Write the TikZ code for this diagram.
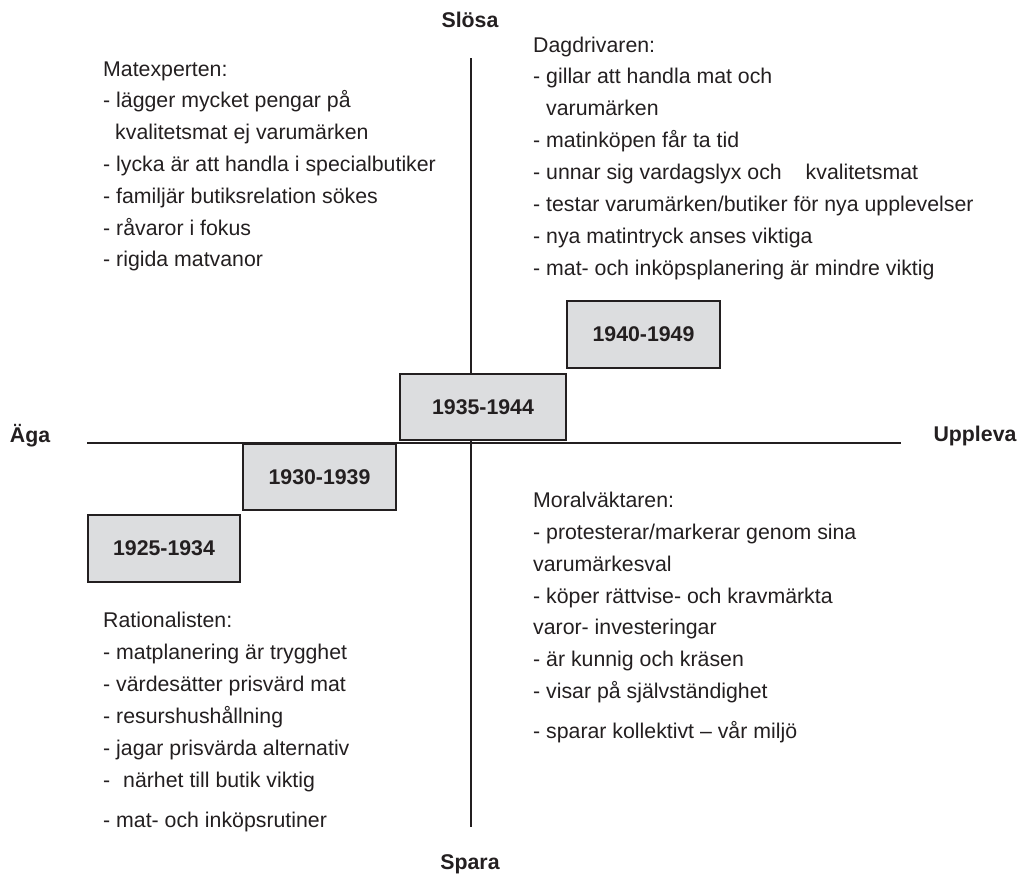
\documentclass[tikz,border=0pt]{standalone}
\usepackage{fontspec}
\setmainfont{Liberation Sans}
\definecolor{ink}{HTML}{231F20}
\definecolor{boxfill}{HTML}{DCDDDF}
\begin{document}
\begin{tikzpicture}[x=1pt,y=-1pt,
  txt/.style={anchor=base west, inner sep=0pt, text=ink, font=\fontsize{21.3}{25}\selectfont},
  axlbl/.style={anchor=base, inner sep=0pt, text=ink, font=\fontsize{21.3}{25}\selectfont\bfseries},
  era/.style={draw=ink, line width=2pt, fill=boxfill, text=ink, inner sep=0pt, font=\fontsize{21.3}{25}\selectfont\bfseries},
  axisline/.style={draw=ink, line width=2.5pt}]
\useasboundingbox (0,0) rectangle (1019,873);
% axes
\coordinate (L) at (87,443);
\coordinate (R) at (901,443);
\coordinate (T) at (471,58);
\coordinate (B) at (471,827);
\draw[axisline] (L) -- (R);
\draw[axisline] (T) -- (B);
% axis labels
\node[axlbl] (slosa) at (470,27) {Slösa};
\node[axlbl] (spara) at (470,869) {Spara};
\node[axlbl] (aga) at (30,442) {Äga};
\node[axlbl] (uppleva) at (975,441) {Uppleva};
% era boxes
\node[era, minimum width=152pt, minimum height=67pt] (e1) at (164,548.5) {1925-1934};
\node[era, minimum width=153pt, minimum height=66pt] (e2) at (319.5,477) {1930-1939};
\node[era, minimum width=166pt, minimum height=66pt] (e3) at (483,407) {1935-1944};
\node[era, minimum width=153pt, minimum height=67pt] (e4) at (643.5,334.5) {1940-1949};
% Matexperten
\foreach \t/\xx/\yy [count=\i] in {
  {Matexperten:}/103/76,
  {- lägger mycket pengar på}/103/107.8,
  {kvalitetsmat ej varumärken}/115/139.6,
  {- lycka är att handla i specialbutiker}/103/171.4,
  {- familjär butiksrelation sökes}/103/203.2,
  {- råvaror i fokus}/103/235,
  {- rigida matvanor}/103/266.8}
  \node[txt] (mx\i) at (\xx,\yy) {\t};
% Dagdrivaren
\foreach \t/\xx/\yy [count=\i] in {
  {Dagdrivaren:}/533/52,
  {- gillar att handla mat och}/533/83.9,
  {varumärken}/546/115.8,
  {- matinköpen får ta tid}/533/147.7,
  {- unnar sig vardagslyx och\hspace{18pt} kvalitetsmat}/533/179.6,
  {- testar varumärken/butiker för nya upplevelser}/533/211.5,
  {- nya matintryck anses viktiga}/533/243.4,
  {- mat- och inköpsplanering är mindre viktig}/533/275.3}
  \node[txt] (dd\i) at (\xx,\yy) {\t};
% Rationalisten
\foreach \t/\xx/\yy [count=\i] in {
  {Rationalisten:}/103/627,
  {- matplanering är trygghet}/103/659,
  {- värdesätter prisvärd mat}/103/691,
  {- resurshushållning}/103/723,
  {- jagar prisvärda alternativ}/103/755,
  {-\hspace{7pt} närhet till butik viktig}/103/787,
  {- mat- och inköpsrutiner}/103/827}
  \node[txt] (ra\i) at (\xx,\yy) {\t};
% Moralväktaren
\foreach \t/\xx/\yy [count=\i] in {
  {Moralväktaren:}/533/507,
  {- protesterar/markerar genom sina}/533/539,
  {varumärkesval}/533/571,
  {- köper rättvise- och kravmärkta}/533/603,
  {varor- investeringar}/533/634,
  {- är kunnig och kräsen}/533/666,
  {- visar på självständighet}/533/698,
  {- sparar kollektivt – vår miljö}/533/738}
  \node[txt] (mv\i) at (\xx,\yy) {\t};
\end{tikzpicture}
\end{document}
